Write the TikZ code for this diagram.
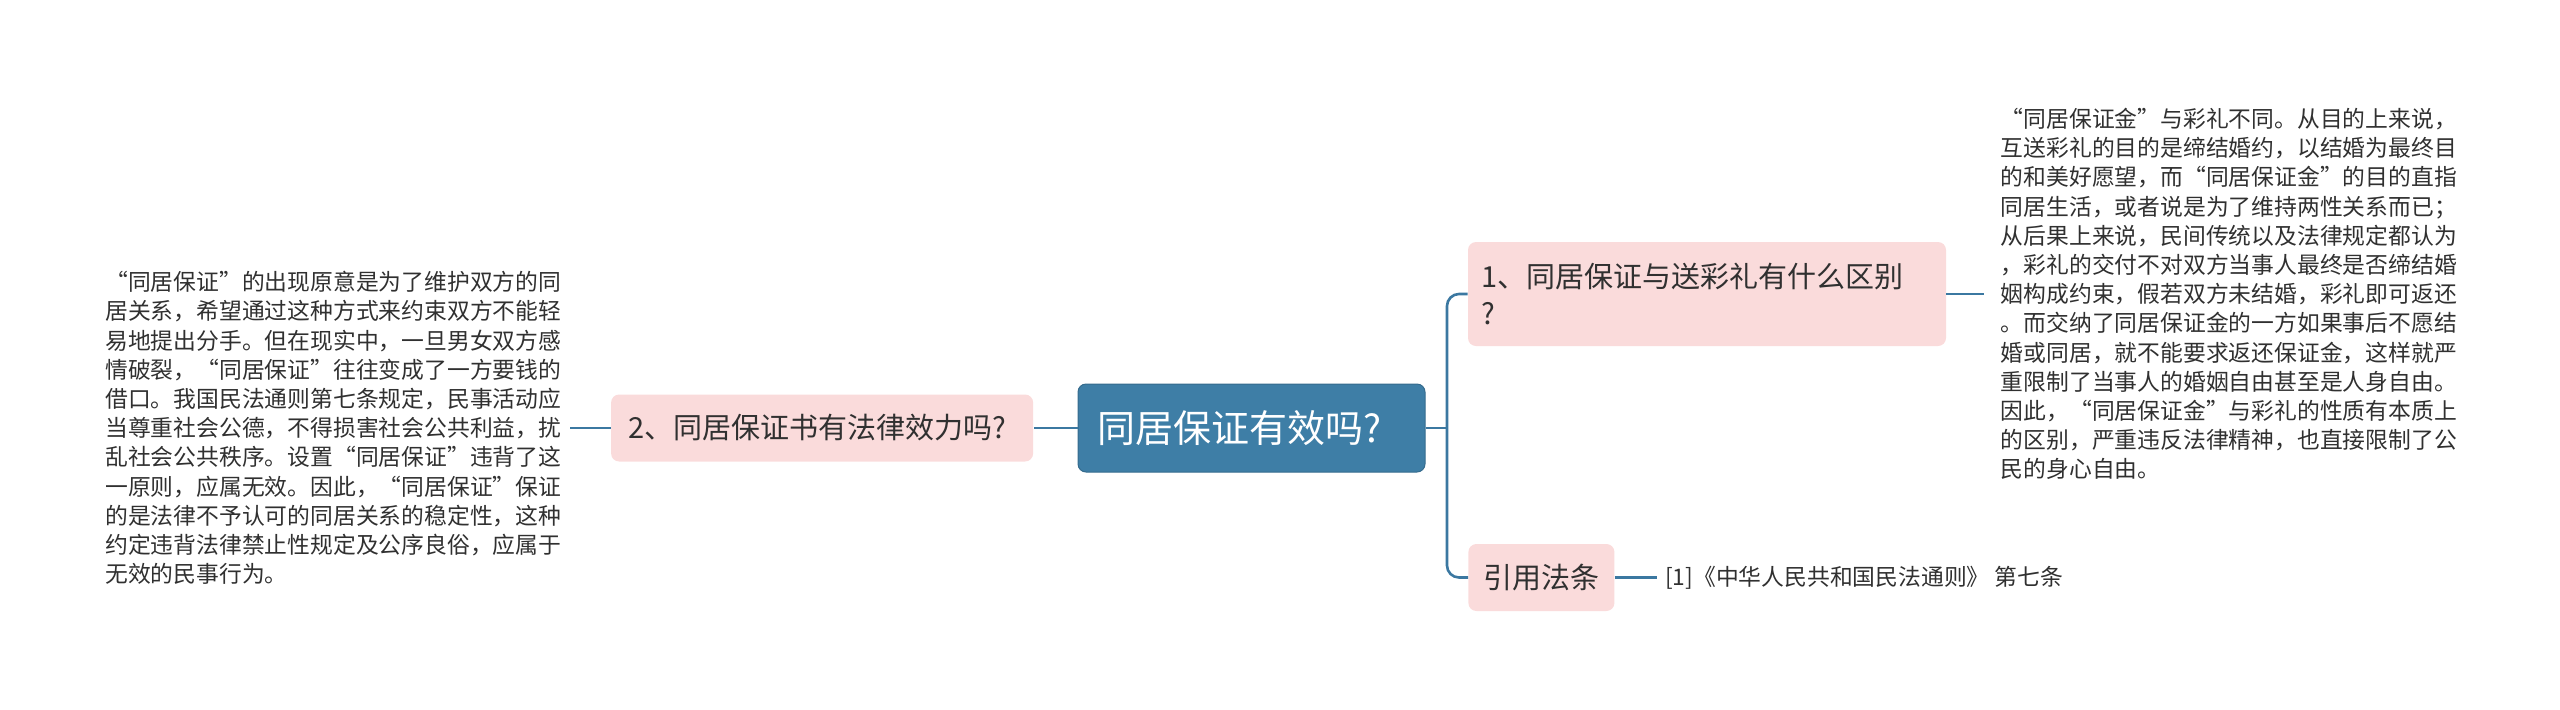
\documentclass[tikz,border=0pt]{standalone}
\usepackage{fontspec}
\newfontfamily\cjk{Noto Sans CJK SC}
\usetikzlibrary{positioning}
\definecolor{rootblue}{HTML}{3E7EA6}
\definecolor{topicpink}{HTML}{FADBDB}
\definecolor{linkblue}{HTML}{3B78A1}
\definecolor{inkgray}{HTML}{303030}

\begin{document}
\begin{tikzpicture}[
    x=0.5pt, y=-0.5pt,
    root/.style={fill=rootblue, draw=rootblue!85!black, line width=0.5pt, rounded corners=4pt, text=white, align=left, font=\cjk\fontsize{19}{22}\selectfont, text width=154.5pt, inner xsep=9.5pt, minimum height=44pt},
    topic/.style={fill=topicpink, rounded corners=4pt, text=inkgray, align=left, font=\cjk\fontsize{14.5}{18.5}\selectfont, inner ysep=0pt},
    note/.style={text=inkgray, align=left, font=\cjk\fontsize{11.4}{14.6}\selectfont, inner sep=0pt},
    link/.style={draw=linkblue, line width=1.3pt}
]
\useasboundingbox (0,0) rectangle (2560,709);

\node[root] (root) at (1251.5,428) {同居保证有效吗?};
\node[topic, left=22pt of root, text width=194pt, inner xsep=8.5pt, minimum height=33.5pt] (validity) {2、同居保证书有法律效力吗?};
\node[note, left=24.5pt of validity] (validitytext) {“同居保证”的出现原意是为了维护双方的同\\
居关系，希望通过这种方式来约束双方不能轻\\
易地提出分手。但在现实中，一旦男女双方感\\
情破裂，“同居保证”往往变成了一方要钱的\\
借口。我国民法通则第七条规定，民事活动应\\
当尊重社会公德，不得损害社会公共利益，扰\\
乱社会公共秩序。设置“同居保证”违背了这\\
一原则，应属无效。因此，“同居保证”保证\\
的是法律不予认可的同居关系的稳定性，这种\\
约定违背法律禁止性规定及公序良俗，应属于\\
无效的民事行为。};

\node[topic, text width=226pt, inner xsep=6.5pt, minimum height=52pt] (difference) at (1707,294) {1、同居保证与送彩礼有什么区别\\?};
\node[note, right=27pt of difference] (differencetext) {“同居保证金”与彩礼不同。从目的上来说，\\
互送彩礼的目的是缔结婚约，以结婚为最终目\\
的和美好愿望，而“同居保证金”的目的直指\\
同居生活，或者说是为了维持两性关系而已；\\
从后果上来说，民间传统以及法律规定都认为\\
，彩礼的交付不对双方当事人最终是否缔结婚\\
姻构成约束，假若双方未结婚，彩礼即可返还\\
。而交纳了同居保证金的一方如果事后不愿结\\
婚或同居，就不能要求返还保证金，这样就严\\
重限制了当事人的婚姻自由甚至是人身自由。\\
因此，“同居保证金”与彩礼的性质有本质上\\
的区别，严重违反法律精神，也直接限制了公\\
民的身心自由。};

\node[topic, inner xsep=7.5pt, minimum height=33.5pt, anchor=west] (law) at (1468,577.5) {引用法条};
\node[note, right=25pt of law] (lawtext) {[1]《中华人民共和国民法通则》 第七条};

\coordinate (fork) at (1447,428);
\draw[link] (root) -- (validity);
\draw[link, shorten >=4pt] (validity) -- (validitytext);
\draw[link] (root.east) -- (fork);
\draw[link, rounded corners=6pt] (difference.west) -| (fork) |- (law.west);
\draw[link, shorten >=8pt] (difference) -- (differencetext);
\draw[link, shorten >=4pt] (law) -- (lawtext);
\end{tikzpicture}
\end{document}
